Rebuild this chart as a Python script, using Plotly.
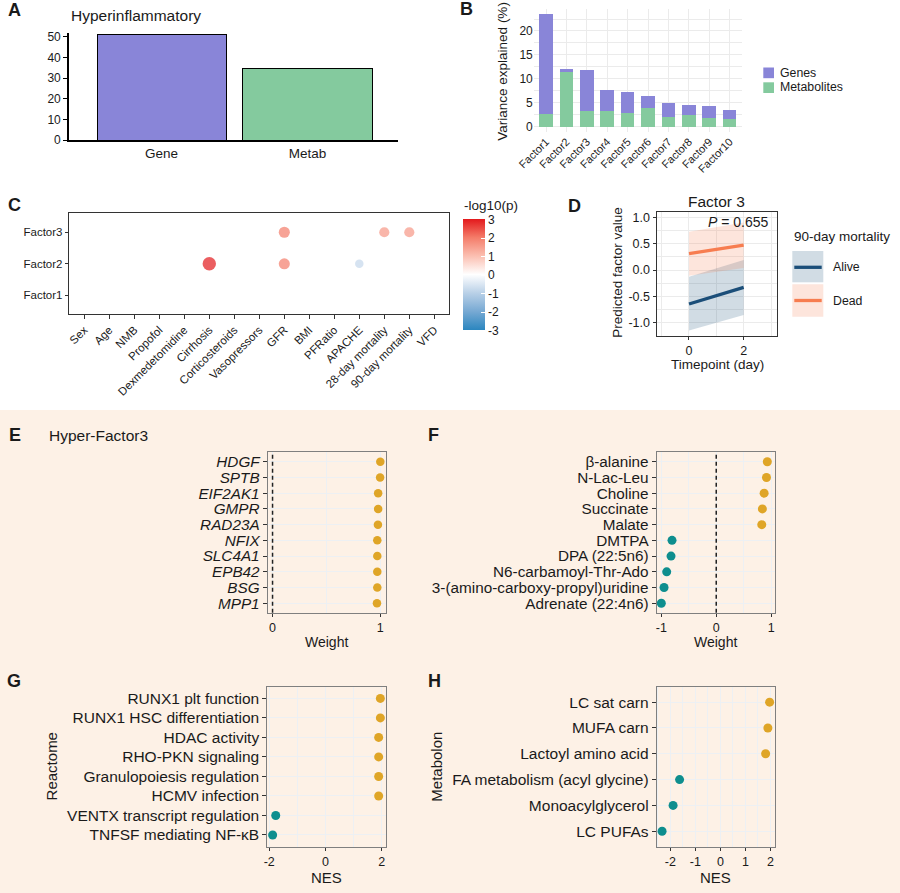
import plotly.graph_objects as go

W, H = 900, 893
FONT = "Liberation Sans, Arial, Helvetica, sans-serif"
INK = "#1a1a1a"
BEIGE = "#FDF1E6"
PURPLE = "#8985D8"
GREEN = "#84CA9E"
GOLD = "#DFA527"
TEAL = "#0E8E8E"
NAVY = "#1B4E79"
ORANGE = "#F77D50"
NAVY_FILL = "rgba(27,78,121,0.2)"
ORANGE_FILL = "rgba(247,125,80,0.2)"
GRID_W = "#EBEBEB"
GRID_B = "#EDF0F3"
BOX = "#7F7F7F"

# ---------------- data ----------------
A_CATEGORIES = ["Gene", "Metab"]
A_VALUES = [51.3, 34.5]

B_FACTORS = ["Factor1", "Factor2", "Factor3", "Factor4", "Factor5",
             "Factor6", "Factor7", "Factor8", "Factor9", "Factor10"]
B_METABOLITES = [2.6, 11.4, 3.3, 3.3, 2.86, 3.84, 2.03, 2.38, 1.88, 1.6]
B_GENES = [20.9, 0.6, 8.55, 4.43, 4.39, 2.58, 2.86, 2.15, 2.38, 1.95]

C_COVARIATES = ["Sex", "Age", "NMB", "Propofol", "Dexmedetomidine", "Cirrhosis",
                "Corticosteroids", "Vasopressors", "GFR", "BMI", "PFRatio", "APACHE",
                "28-day mortality", "90-day mortality", "VFD"]
C_FACTORS = ["Factor1", "Factor2", "Factor3"]
C_HIT_FACTOR = ["Factor3", "Factor3", "Factor3", "Factor2", "Factor2", "Factor2"]
C_HIT_COVARIATE = ["GFR", "28-day mortality", "90-day mortality", "Cirrhosis", "GFR", "APACHE"]
C_HIT_LOGP = [2.0, 1.6, 1.6, 3.0, 2.0, -0.85]
C_TICKS = [-3, -2, -1, 0, 1, 2, 3]

D_TIMEPOINTS = [0, 2]
D_ALIVE_FIT = [-0.645, -0.33]
D_ALIVE_LO = [-1.15, -0.855]
D_ALIVE_HI = [-0.13, 0.19]
D_DEAD_FIT = [0.31, 0.47]
D_DEAD_LO = [-0.11, 0.04]
D_DEAD_HI = [0.727, 0.90]
D_P = 0.655
D_YTICKS = [-1.0, -0.5, 0.0, 0.5, 1.0]
D_XTICKS = [0, 2]

E_GENES = ["HDGF", "SPTB", "EIF2AK1", "GMPR", "RAD23A", "NFIX", "SLC4A1", "EPB42", "BSG", "MPP1"]
E_WEIGHTS = [1.0, 0.998, 0.98, 0.98, 0.978, 0.972, 0.972, 0.972, 0.972, 0.969]

F_METABOLITES = ["β-alanine", "N-Lac-Leu", "Choline", "Succinate", "Malate", "DMTPA",
                 "DPA (22:5n6)", "N6-carbamoyl-Thr-Ado", "3-(amino-carboxy-propyl)uridine",
                 "Adrenate (22:4n6)"]
F_WEIGHTS = [0.93, 0.915, 0.872, 0.84, 0.829, -0.805, -0.823, -0.902, -0.95, -1.0]

G_PATHWAYS = ["RUNX1 plt function", "RUNX1 HSC differentiation", "HDAC activity",
              "RHO-PKN signaling", "Granulopoiesis regulation", "HCMV infection",
              "VENTX transcript regulation", "TNFSF mediating NF-κB"]
G_NES = [1.95, 1.95, 1.89, 1.89, 1.89, 1.89, -1.77, -1.88]

H_SETS = ["LC sat carn", "MUFA carn", "Lactoyl amino acid", "FA metabolism (acyl glycine)",
          "Monoacylglycerol", "LC PUFAs"]
H_NES = [1.97, 1.9, 1.81, -1.63, -1.89, -2.33]

ZERO_LINE = 0


# ---------------- helpers ----------------
def xdom(x0, x1):
    return [x0 / W, x1 / W]


def ydom(top, bottom):
    return [1 - bottom / H, 1 - top / H]


def tf(size, style=None):
    d = dict(family=FONT, size=size, color=INK)
    if style:
        d["style"] = style
    return d


annotations = []
shapes = []


def text(x, y, s, size, xanchor="center", angle=0):
    annotations.append(dict(x=x / W, y=1 - y / H, xref="paper", yref="paper", text=s,
                            showarrow=False, xanchor=xanchor, yanchor="middle",
                            textangle=angle, font=tf(size)))


def rect(x0, y0, x1, y1, fill):
    shapes.append(dict(type="rect", xref="paper", yref="paper", x0=x0 / W, x1=x1 / W,
                       y0=1 - y1 / H, y1=1 - y0 / H, fillcolor=fill, line=dict(width=0),
                       layer="below"))


def seg(x0, x1, y, color, width):
    shapes.append(dict(type="line", xref="paper", yref="paper", x0=x0 / W, x1=x1 / W,
                       y0=1 - y / H, y1=1 - y / H, line=dict(color=color, width=width)))


fig = go.Figure()

# background band for lower panels
shapes.append(dict(type="rect", xref="paper", yref="paper", x0=0, x1=1, y0=0,
                   y1=1 - 410 / H, fillcolor=BEIGE, line=dict(width=0), layer="below"))

# ---------------- A ----------------
fig.add_trace(go.Bar(x=A_CATEGORIES, y=A_VALUES, width=0.884,
                     marker=dict(color=[PURPLE, GREEN], line=dict(color="black", width=1)),
                     xaxis="x", yaxis="y", hoverinfo="skip"))

# ---------------- B ----------------
fig.add_trace(go.Bar(x=B_FACTORS, y=B_METABOLITES, width=0.67, marker=dict(color=GREEN, line=dict(width=0)),
                     xaxis="x2", yaxis="y2", name="Metabolites"))
fig.add_trace(go.Bar(x=B_FACTORS, y=B_GENES, width=0.67, marker=dict(color=PURPLE, line=dict(width=0)),
                     xaxis="x2", yaxis="y2", name="Genes"))

# ---------------- C ----------------
fig.add_trace(go.Scatter(x=[c for f in C_FACTORS for c in C_COVARIATES],
                         y=[f for f in C_FACTORS for c in C_COVARIATES],
                         mode="markers", marker=dict(opacity=0, size=1),
                         xaxis="x3", yaxis="y3", hoverinfo="skip"))
C_SCALE = [[0.0, "#2B86BF"], [1 / 6, "#77A9D3"], [2 / 6, "#B9D0E7"], [0.5, "#FFFFFF"],
           [4 / 6, "#FBBFB1"], [5 / 6, "#F47C69"], [1.0, "#E3191C"]]
fig.add_trace(go.Scatter(
    x=C_HIT_COVARIATE, y=C_HIT_FACTOR, mode="markers", xaxis="x3", yaxis="y3",
    marker=dict(color=C_HIT_LOGP, cmin=-3, cmax=3, colorscale=C_SCALE,
                size=[6.5 + 2.3 * abs(v) for v in C_HIT_LOGP], line=dict(width=0),
                colorbar=dict(x=463.3 / W, xanchor="left", xpad=0, ypad=0,
                              y=1 - 275 / H, yanchor="middle", len=111.4, lenmode="pixels",
                              thickness=22, thicknessmode="pixels", outlinewidth=0,
                              tickvals=C_TICKS, ticktext=[f"{v:g}" for v in C_TICKS],
                              ticks="inside", ticklen=4, tickcolor="white", tickwidth=1,
                              tickfont=tf(12)))))

# ---------------- D ----------------
fig.add_trace(go.Scatter(x=D_TIMEPOINTS + D_TIMEPOINTS[::-1], y=D_ALIVE_LO + D_ALIVE_HI[::-1],
                         fill="toself", fillcolor=NAVY_FILL, line=dict(width=0), mode="lines",
                         xaxis="x4", yaxis="y4", hoverinfo="skip"))
fig.add_trace(go.Scatter(x=D_TIMEPOINTS + D_TIMEPOINTS[::-1], y=D_DEAD_LO + D_DEAD_HI[::-1],
                         fill="toself", fillcolor=ORANGE_FILL, line=dict(width=0), mode="lines",
                         xaxis="x4", yaxis="y4", hoverinfo="skip"))
fig.add_trace(go.Scatter(x=D_TIMEPOINTS, y=D_ALIVE_FIT, mode="lines", line=dict(color=NAVY, width=3.3),
                         xaxis="x4", yaxis="y4"))
fig.add_trace(go.Scatter(x=D_TIMEPOINTS, y=D_DEAD_FIT, mode="lines", line=dict(color=ORANGE, width=3.3),
                         xaxis="x4", yaxis="y4"))


# ---------------- E-H ----------------
def lolli(names, values, ax, size):
    fig.add_trace(go.Scatter(x=values, y=names, mode="markers", xaxis="x" + ax, yaxis="y" + ax,
                             marker=dict(size=size, color=[GOLD if v > 0 else TEAL for v in values],
                                         line=dict(width=0))))


lolli(E_GENES, E_WEIGHTS, "5", 8.5)
lolli(F_METABOLITES, F_WEIGHTS, "6", 9)
lolli(G_PATHWAYS, G_NES, "7", 9)
lolli(H_SETS, H_NES, "8", 9)

for ax in ["5", "6"]:
    shapes.append(dict(type="line", xref="x" + ax, yref="y" + ax + " domain", x0=ZERO_LINE, x1=ZERO_LINE,
                       y0=0, y1=1, line=dict(color="#222222", width=1.5, dash="4px,3px")))


def lolli_axes(xd, yd, cats, xr, major, minor_step, label_size, ax, label_style=None):
    xa = dict(domain=xd, anchor="y" + ax, range=xr, tickmode="array", tickvals=major,
              ticktext=[f"{v:g}" for v in major], automargin=False,
              showline=True, mirror=True, linecolor=BOX, linewidth=1, ticks="outside", ticklen=3.5,
              tickcolor="#333333", showgrid=True, gridcolor=GRID_B, gridwidth=1,
              minor=dict(tickmode="linear", tick0=0, dtick=minor_step, showgrid=True,
                         gridcolor=GRID_B, gridwidth=0.7, ticks=""),
              zeroline=False, tickfont=tf(12.5))
    ya = dict(domain=yd, anchor="x" + ax, type="category", categoryorder="array",
              categoryarray=cats[::-1], tickmode="array", tickvals=cats, ticktext=cats,
              range=[-0.6, len(cats) - 0.4], showline=True, mirror=True, automargin=False,
              linecolor=BOX, linewidth=1, ticks="outside", ticklen=4, tickcolor="#333333",
              showgrid=True, gridcolor=GRID_B, zeroline=False, tickfont=tf(label_size, label_style))
    return xa, ya


xa5, ya5 = lolli_axes(xdom(267.7, 385.7), ydom(452.3, 612.7), E_GENES, [-0.045, 1.05], [0, 1], 0.5, 15.3, "5", "italic")
xa6, ya6 = lolli_axes(xdom(656.7, 775), ydom(452.3, 612.7), F_METABOLITES, [-1.084, 1.07], [-1, 0, 1], 0.5, 15.3, "6")
xa7, ya7 = lolli_axes(xdom(267.3, 385.7), ydom(686.7, 846.7), G_PATHWAYS, [-2.07, 2.14], [-2, 0, 2], 1, 15.5, "7")
xa8, ya8 = lolli_axes(xdom(656.7, 775), ydom(686.7, 846.7), H_SETS, [-2.545, 2.185], [-2, -1, 0, 1, 2], 0.5, 15.5, "8")

# ---------------- text & legends ----------------
for lab, x, y in [("A", 14, 10), ("B", 466.5, 9.5), ("C", 14.5, 205), ("D", 574.5, 205.5),
                  ("E", 14.5, 434.5), ("F", 433.5, 434.5), ("G", 13.5, 680.5), ("H", 434.5, 680.5)]:
    text(x, y, f"<b>{lab}</b>", 18)

text(69, 16, "Hyperinflammatory", 15.5, xanchor="left")

text(501.7, 71, "Variance explained (%)", 13.5, angle=-90)
rect(763.3, 67.5, 774, 78.2, PURPLE)
rect(763.3, 82.3, 774, 93, GREEN)
text(778, 72.7, "Genes", 12.3, xanchor="left")
text(778, 87.5, "Metabolites", 12.3, xanchor="left")

text(461.5, 206, "-log10(p)", 13.5, xanchor="left")

text(716.7, 201, "Factor 3", 15.5)
text(771, 222, f"<i>P</i> = {D_P:.3f}", 14, xanchor="right")
text(616.7, 272, "Predicted factor value", 13.5, angle=-90)
text(717, 364, "Timepoint (day)", 13.5)
text(792.3, 236.7, "90-day mortality", 13.5, xanchor="left")
rect(792.3, 251, 823.3, 282.3, NAVY_FILL)
rect(792.3, 284.3, 823.3, 316.7, ORANGE_FILL)
seg(794.3, 821.7, 267.3, NAVY, 3.3)
seg(794.3, 821.7, 300.5, ORANGE, 3.3)
text(830.7, 267, "Alive", 12.3, xanchor="left")
text(830.7, 301, "Dead", 12.3, xanchor="left")

text(47, 435, "Hyper-Factor3", 15.5, xanchor="left")
text(326.7, 641.5, "Weight", 14)
text(715.9, 641.5, "Weight", 14)
text(326.5, 877, "NES", 15)
text(715.9, 877, "NES", 15)
text(51.7, 766.7, "Reactome", 15, angle=-90)
text(437, 766.7, "Metabolon", 15, angle=-90)

fig.update_layout(
    template="none",
    width=W, height=H, autosize=False, margin=dict(l=0, r=0, t=0, b=0, pad=0),
    paper_bgcolor="white", plot_bgcolor="rgba(0,0,0,0)", showlegend=False, barmode="stack",
    font=dict(family=FONT, color=INK), hovermode=False,
    xaxis=dict(domain=xdom(69, 398), anchor="y", type="category", categoryorder="array",
               categoryarray=A_CATEGORIES, range=[-0.634, 1.62], showline=True, linecolor="black",
               linewidth=1.6, ticks="", showgrid=False, zeroline=False, tickfont=tf(13.5), automargin=False),
    yaxis=dict(domain=ydom(33.4, 140), anchor="x", range=[0, 51.6], tickvals=[0, 10, 20, 30, 40, 50],
               showline=True, linecolor="black", linewidth=1.6, ticks="outside", ticklen=4,
               tickwidth=1.3, tickcolor="black", showgrid=False, zeroline=False, tickfont=tf(12),
               automargin=False),
    xaxis2=dict(domain=xdom(533.8, 741.9), anchor="y2", type="category", categoryorder="array",
                categoryarray=B_FACTORS, tickmode="array", tickvals=B_FACTORS, ticktext=B_FACTORS,
                range=[-0.6, 9.6], showgrid=True, gridcolor=GRID_W, showline=False,
                ticks="", tickangle=-45, zeroline=False, tickfont=tf(11), automargin=False),
    yaxis2=dict(domain=ydom(8.5, 132.3), anchor="x2", range=[-1.18, 24.7], tickvals=[0, 5, 10, 15, 20],
                showgrid=True, gridcolor=GRID_W, zeroline=False, ticks="", tickfont=tf(12),
                showline=False, automargin=False,
                minor=dict(tickmode="linear", tick0=0, dtick=2.5, showgrid=True, gridcolor=GRID_W,
                           gridwidth=0.6, ticks="")),
    xaxis3=dict(domain=xdom(69.3, 449.3), anchor="y3", type="category", categoryorder="array",
                categoryarray=C_COVARIATES, tickmode="array", tickvals=C_COVARIATES, ticktext=C_COVARIATES,
                range=[-0.6, 14.6], showline=True, mirror=True, automargin=False,
                linecolor="#333333", linewidth=1, ticks="outside", ticklen=3.5, tickcolor="#333333",
                tickangle=-45, showgrid=False, zeroline=False, tickfont=tf(11.5)),
    yaxis3=dict(domain=ydom(213.3, 314.3), anchor="x3", type="category", categoryorder="array",
                categoryarray=C_FACTORS, tickmode="array", tickvals=C_FACTORS, ticktext=C_FACTORS,
                range=[-0.6, 2.6], showline=True, mirror=True, automargin=False,
                linecolor="#333333", linewidth=1, ticks="outside", ticklen=3.5, tickcolor="#333333",
                showgrid=False, zeroline=False, tickfont=tf(11.5)),
    xaxis4=dict(domain=xdom(657, 777.3), anchor="y4", range=[-1.17, 3.23], tickmode="array", tickvals=D_XTICKS,
                ticktext=[f"{v:g}" for v in D_XTICKS], showline=True, mirror=True, linecolor="#333333",
                linewidth=1, ticks="outside", ticklen=3.5, tickcolor="#333333", showgrid=True,
                gridcolor=GRID_W, zeroline=False, tickfont=tf(12.5), automargin=False,
                minor=dict(tickmode="linear", tick0=0, dtick=1, showgrid=True, gridcolor=GRID_W,
                           gridwidth=0.6, ticks="")),
    yaxis4=dict(domain=ydom(212.3, 335.7), anchor="x4", range=[-1.247, 1.095], tickmode="array", tickvals=D_YTICKS,
                ticktext=[f"{v:.1f}" for v in D_YTICKS], showline=True, mirror=True, linecolor="#333333",
                linewidth=1, ticks="outside", ticklen=3.5, tickcolor="#333333", showgrid=True,
                gridcolor=GRID_W, zeroline=False, tickfont=tf(12.5), automargin=False,
                minor=dict(tickmode="linear", tick0=0, dtick=0.25, showgrid=True, gridcolor=GRID_W,
                           gridwidth=0.6, ticks="")),
    xaxis5=xa5, yaxis5=ya5, xaxis6=xa6, yaxis6=ya6,
    xaxis7=xa7, yaxis7=ya7, xaxis8=xa8, yaxis8=ya8,
    annotations=annotations, shapes=shapes,
)

fig.write_html("out.html", post_script="document.body.style.margin='0';")
